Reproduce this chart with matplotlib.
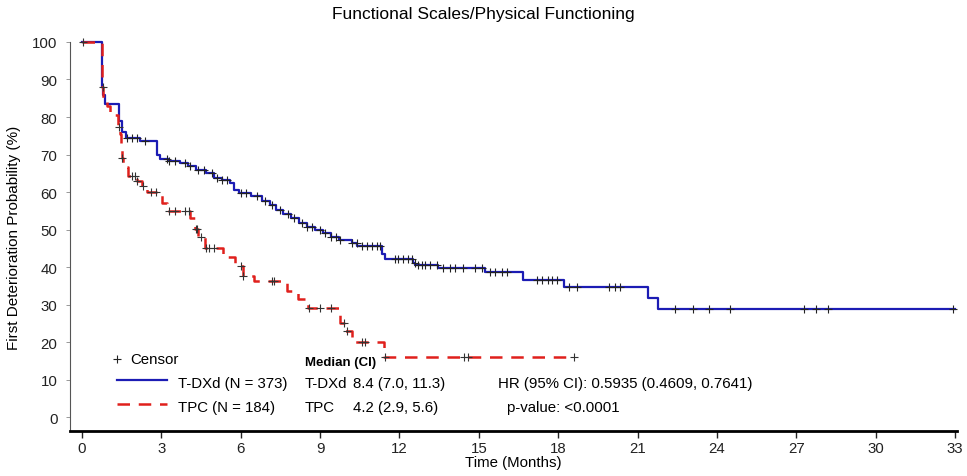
import numpy as np
import matplotlib
matplotlib.use("Agg")
import matplotlib.pyplot as plt

plt.rcParams["font.family"] = ["Liberation Sans", "DejaVu Sans"]

# Kaplan-Meier style step data (time in months, probability in %)
tdxd_time = [0, 0.74, 0.80, 0.88, 1.41, 1.50, 1.65, 2.2, 2.85, 2.95, 3.3, 3.7, 4.0, 4.3,
             4.7, 5.0, 5.3, 5.6, 5.75, 5.95, 6.4, 6.8, 7.1, 7.35, 7.6, 7.9, 8.2, 8.5,
             8.8, 9.1, 9.4, 9.7, 10.2, 10.4, 11.33, 11.45, 12.5, 12.6, 13.46, 15.24,
             16.66, 18.2, 21.4, 21.78, 33.0]
tdxd_surv = [100, 88, 86, 83.5, 79, 76, 74.5, 73.5, 70, 68.8, 68.3, 67.8, 67, 66,
             65, 63.8, 63.2, 62.4, 60.5, 59.8, 59, 57.6, 56.5, 55.2, 54.2, 53.2, 51.8, 50.8,
             49.8, 49, 48, 47.3, 46.3, 45.7, 43.5, 42.1, 41, 40.6, 39.7, 38.8,
             36.6, 34.6, 31.7, 28.9, 28.9]
tdxd_censor = [1.7, 1.9, 2.1, 2.4, 3.2, 3.3, 3.5, 3.9, 4.1, 4.4, 4.6, 4.9, 5.1, 5.3, 5.5,
               6.0, 6.2, 6.6, 6.9, 7.2, 7.5, 7.8, 8.0, 8.3, 8.5, 8.7, 9.0, 9.2, 9.4, 9.6,
               9.75, 10.2, 10.39, 10.58, 10.77, 10.96, 11.14, 11.27, 11.83, 11.96, 12.15,
               12.34, 12.46, 12.59, 12.7, 12.84, 12.97, 13.16, 13.41, 13.66, 13.91, 14.1,
               14.4, 14.86, 15.1, 15.43, 15.6, 15.87, 16.06, 17.2, 17.4, 17.6, 17.75, 17.95,
               18.4, 18.7, 19.9, 20.15, 20.35, 22.4, 23.1, 23.7, 24.5, 27.3, 27.75, 28.2, 32.9]

tpc_time = [0, 0.74, 0.80, 0.93, 1.05, 1.37, 1.45, 1.47, 1.50, 1.56, 1.75, 2.07, 2.26,
            2.45, 3.01, 3.2, 4.08, 4.27, 4.4, 4.65, 5.34, 5.78, 6.1, 6.5, 7.74, 8.18,
            8.56, 9.75, 9.94, 10.2, 11.4, 18.6]
tpc_surv = [100, 88, 84.3, 83, 80.5, 77.3, 75.5, 72.8, 69.2, 66.6, 64.2, 63, 61.7,
            59.9, 57.2, 55, 53.2, 50.1, 47.9, 45.2, 42.6, 40.4, 37.7, 36.2, 33.7, 31.5,
            29.2, 25.2, 23, 19.9, 15.9, 15.9]
tpc_censor = [0.05, 0.78, 1.4, 1.52, 1.9, 2.0, 2.1, 2.3, 2.6, 2.8, 3.3, 3.5, 3.9, 4.05,
              4.3, 4.35, 4.5, 4.7, 4.8, 5.0, 6.0, 6.1, 7.2, 7.25, 8.6, 9.0, 9.4, 9.9,
              10.0, 10.6, 10.7, 11.45, 14.45, 14.6, 18.6]

x_ticks = list(range(0, 34, 3))
y_ticks = list(range(0, 101, 10))

blue = "#1c1cb4"
red = "#e0201c"
fs = 10.8


def surv_at(times, survs, t):
    idx = np.searchsorted(times, t, side="right") - 1
    return np.array(survs)[idx]


fig = plt.figure(figsize=(9.67, 4.77), dpi=100)
ax = fig.add_axes([0.0724, 0.0943, 0.9173, 0.8156])

ax.step(tdxd_time, tdxd_surv, where="post", color=blue, lw=1.6, clip_on=False, zorder=3)
ax.step(tpc_time, tpc_surv, where="post", color=red, lw=1.8, dashes=(5, 3.5),
        clip_on=False, zorder=3)

ax.plot(tdxd_censor, surv_at(tdxd_time, tdxd_surv, tdxd_censor), ls="none", marker="+",
        ms=6, mew=0.8, color="#222222", zorder=4, clip_on=False)
ax.plot(tpc_censor, surv_at(tpc_time, tpc_surv, tpc_censor), ls="none", marker="+",
        ms=6, mew=0.8, color="#333333", zorder=4, clip_on=False)

ax.set_xlim(-0.45, 33.07)
ax.set_ylim(-3.7, 100)
ax.set_xticks(x_ticks)
ax.set_yticks(y_ticks)
ax.tick_params(axis="both", labelsize=fs, colors="#222222", direction="out")
ax.tick_params(axis="y", length=3, width=0.6, color="#888888", pad=6)
ax.tick_params(axis="x", length=5, width=1.0, pad=2)
for s in ["top", "right"]:
    ax.spines[s].set_visible(False)
ax.spines["bottom"].set_linewidth(2.0)
ax.spines["left"].set_linewidth(0.8)
ax.spines["left"].set_color("#555555")

ax.set_xlabel("Time (Months)", fontsize=fs, labelpad=0)
ax.set_ylabel("First Deterioration Probability (%)", fontsize=11, labelpad=8)
fig.suptitle("Functional Scales/Physical Functioning", fontsize=12.5, y=0.985)

# legend block drawn in data coordinates
tx = lambda px: (px - 82) / 26.45
ty = lambda py: (418 - py) / 3.75
ax.plot([tx(117)], [ty(360)], marker="+", ms=6, mew=0.8, color="#222222", ls="none")
ax.text(tx(130), ty(360), "Censor", fontsize=fs, va="center")
ax.plot([tx(117), tx(167)], [ty(381), ty(381)], color=blue, lw=1.6)
ax.text(tx(178), ty(384), "T-DXd (N = 373)", fontsize=fs, va="center")
ax.plot([tx(117), tx(167)], [ty(405), ty(405)], color=red, lw=1.8, dashes=(5, 3.5))
ax.text(tx(178), ty(408), "TPC (N = 184)", fontsize=fs, va="center")

ax.text(tx(305), ty(363), "Median (CI)", fontsize=9.5, fontweight="bold", va="center")
ax.text(tx(305), ty(384), "T-DXd", fontsize=fs, va="center")
ax.text(tx(353), ty(384), "8.4 (7.0, 11.3)", fontsize=fs, va="center")
ax.text(tx(305), ty(408), "TPC", fontsize=fs, va="center")
ax.text(tx(353), ty(408), "4.2 (2.9, 5.6)", fontsize=fs, va="center")
ax.text(tx(498), ty(384), "HR (95% CI): 0.5935 (0.4609, 0.7641)", fontsize=fs, va="center")
ax.text(tx(507), ty(408), "p-value: <0.0001", fontsize=fs, va="center")

fig.savefig("out.png", dpi=100)
